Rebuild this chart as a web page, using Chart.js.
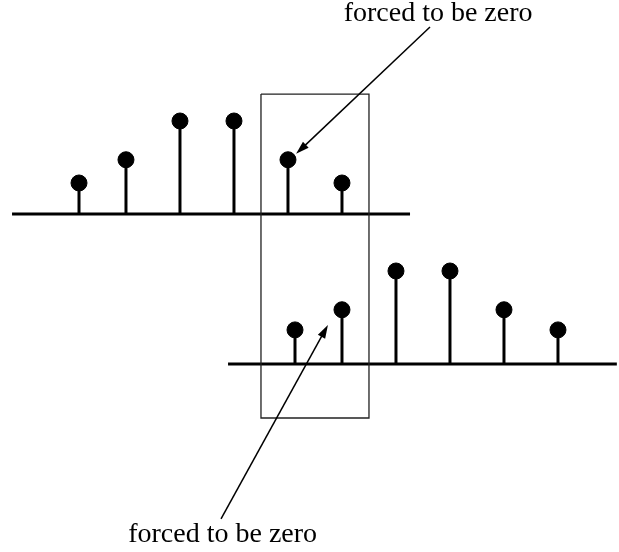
<!DOCTYPE html>
<html>
<head>
<meta charset="utf-8">
<script src="https://cdn.jsdelivr.net/npm/chart.js@4"></script>
<style>
  html, body { margin: 0; padding: 0; background: #fff; }
  #wrap { width: 619px; height: 552px; }
</style>
</head>
<body>
<div id="wrap"><canvas id="c"></canvas></div>
<script>
// sample positions (n) and amplitudes of the two sequences
const topN = [0, 0.87, 1.87, 2.87, 3.87, 4.87];
const topV = [1, 1.75, 3, 3, 1.75, 1];
const botN = [4.0, 4.87, 5.87, 6.87, 7.87, 8.87];
const botV = [1.1, 1.75, 3, 3, 1.75, 1.1];

// axis lines (n range) for each sequence
const topAxis = [-1.24, 6.13];
const botAxis = [2.76, 9.96];

// window box, in top-sequence units
const boxN = [3.37, 5.37];
const boxV = [3.87, -6.58];

// annotations: label, arrow tail, arrow tip
const noteText = 'forced to be zero';
const topNote = { text: [6.65, 6.23], tail: [6.5, 6.03], tip: [4.02, 1.94] };
const botNote = { text: [2.66, -5.74], tail: [2.63, -5.0], tip: [4.61, 1.26] };

const stemPlugin = {
  id: 'stems',
  afterDatasetsDraw(chart) {
    const ctx = chart.ctx;
    const x = chart.scales.x;
    const draw = (ns, vs, ys) => {
      ctx.save();
      ctx.strokeStyle = '#000';
      ctx.lineWidth = 3;
      ns.forEach((n, i) => {
        ctx.beginPath();
        ctx.moveTo(x.getPixelForValue(n), ys.getPixelForValue(0));
        ctx.lineTo(x.getPixelForValue(n), ys.getPixelForValue(vs[i]));
        ctx.stroke();
      });
      ctx.restore();
    };
    draw(topN, topV, chart.scales.yTop);
    draw(botN, botV, chart.scales.yBot);
  },
  afterDraw(chart) {
    const ctx = chart.ctx;
    const x = chart.scales.x;
    const note = (nt, ys) => {
      const tx = x.getPixelForValue(nt.tail[0]), ty = ys.getPixelForValue(nt.tail[1]);
      const hx = x.getPixelForValue(nt.tip[0]), hy = ys.getPixelForValue(nt.tip[1]);
      const a = Math.atan2(hy - ty, hx - tx);
      ctx.save();
      ctx.strokeStyle = '#000';
      ctx.fillStyle = '#000';
      ctx.lineWidth = 1.5;
      ctx.beginPath();
      ctx.moveTo(tx, ty);
      ctx.lineTo(hx - 8 * Math.cos(a), hy - 8 * Math.sin(a));
      ctx.stroke();
      ctx.beginPath();
      ctx.moveTo(hx, hy);
      ctx.lineTo(hx - 14 * Math.cos(a - 0.3), hy - 14 * Math.sin(a - 0.3));
      ctx.lineTo(hx - 14 * Math.cos(a + 0.3), hy - 14 * Math.sin(a + 0.3));
      ctx.closePath();
      ctx.fill();
      ctx.font = '28px "Liberation Serif", "Times New Roman", serif';
      ctx.textAlign = 'center';
      ctx.textBaseline = 'alphabetic';
      ctx.fillText(noteText, x.getPixelForValue(nt.text[0]), ys.getPixelForValue(nt.text[1]));
      ctx.restore();
    };
    note(topNote, chart.scales.yTop);
    note(botNote, chart.scales.yBot);
  }
};

const hidden = { display: false };

new Chart(document.getElementById('c'), {
  type: 'scatter',
  data: {
    datasets: [
      {
        label: 'box',
        type: 'line',
        yAxisID: 'yTop',
        data: [
          { x: boxN[0], y: boxV[0] }, { x: boxN[1], y: boxV[0] },
          { x: boxN[1], y: boxV[1] }, { x: boxN[0], y: boxV[1] },
          { x: boxN[0], y: boxV[0] }
        ],
        borderColor: '#222',
        borderWidth: 1.3,
        pointRadius: 0,
        fill: false,
        tension: 0
      },
      {
        label: 'top axis',
        type: 'line',
        yAxisID: 'yTop',
        data: topAxis.map(n => ({ x: n, y: 0 })),
        borderColor: '#000',
        borderWidth: 3,
        pointRadius: 0
      },
      {
        label: 'bottom axis',
        type: 'line',
        yAxisID: 'yBot',
        data: botAxis.map(n => ({ x: n, y: 0 })),
        borderColor: '#000',
        borderWidth: 3,
        pointRadius: 0
      },
      {
        label: 'x1',
        yAxisID: 'yTop',
        data: topN.map((n, i) => ({ x: n, y: topV[i] })),
        backgroundColor: '#000',
        borderColor: '#000',
        pointRadius: 8,
        pointHoverRadius: 8
      },
      {
        label: 'x2',
        yAxisID: 'yBot',
        data: botN.map((n, i) => ({ x: n, y: botV[i] })),
        backgroundColor: '#000',
        borderColor: '#000',
        pointRadius: 8,
        pointHoverRadius: 8
      }
    ]
  },
  options: {
    responsive: true,
    maintainAspectRatio: false,
    animation: false,
    devicePixelRatio: 1,
    layout: { padding: 0, autoPadding: false },
    plugins: { legend: hidden, tooltip: { enabled: false } },
    scales: {
      x: { type: 'linear', display: false, min: -1.463, max: 10.0 },
      yTop: { type: 'linear', display: false, min: -10.903, max: 6.903 },
      yBot: { type: 'linear', display: false, min: -6.065, max: 11.742 }
    }
  },
  plugins: [stemPlugin]
});
</script>
</body>
</html>
